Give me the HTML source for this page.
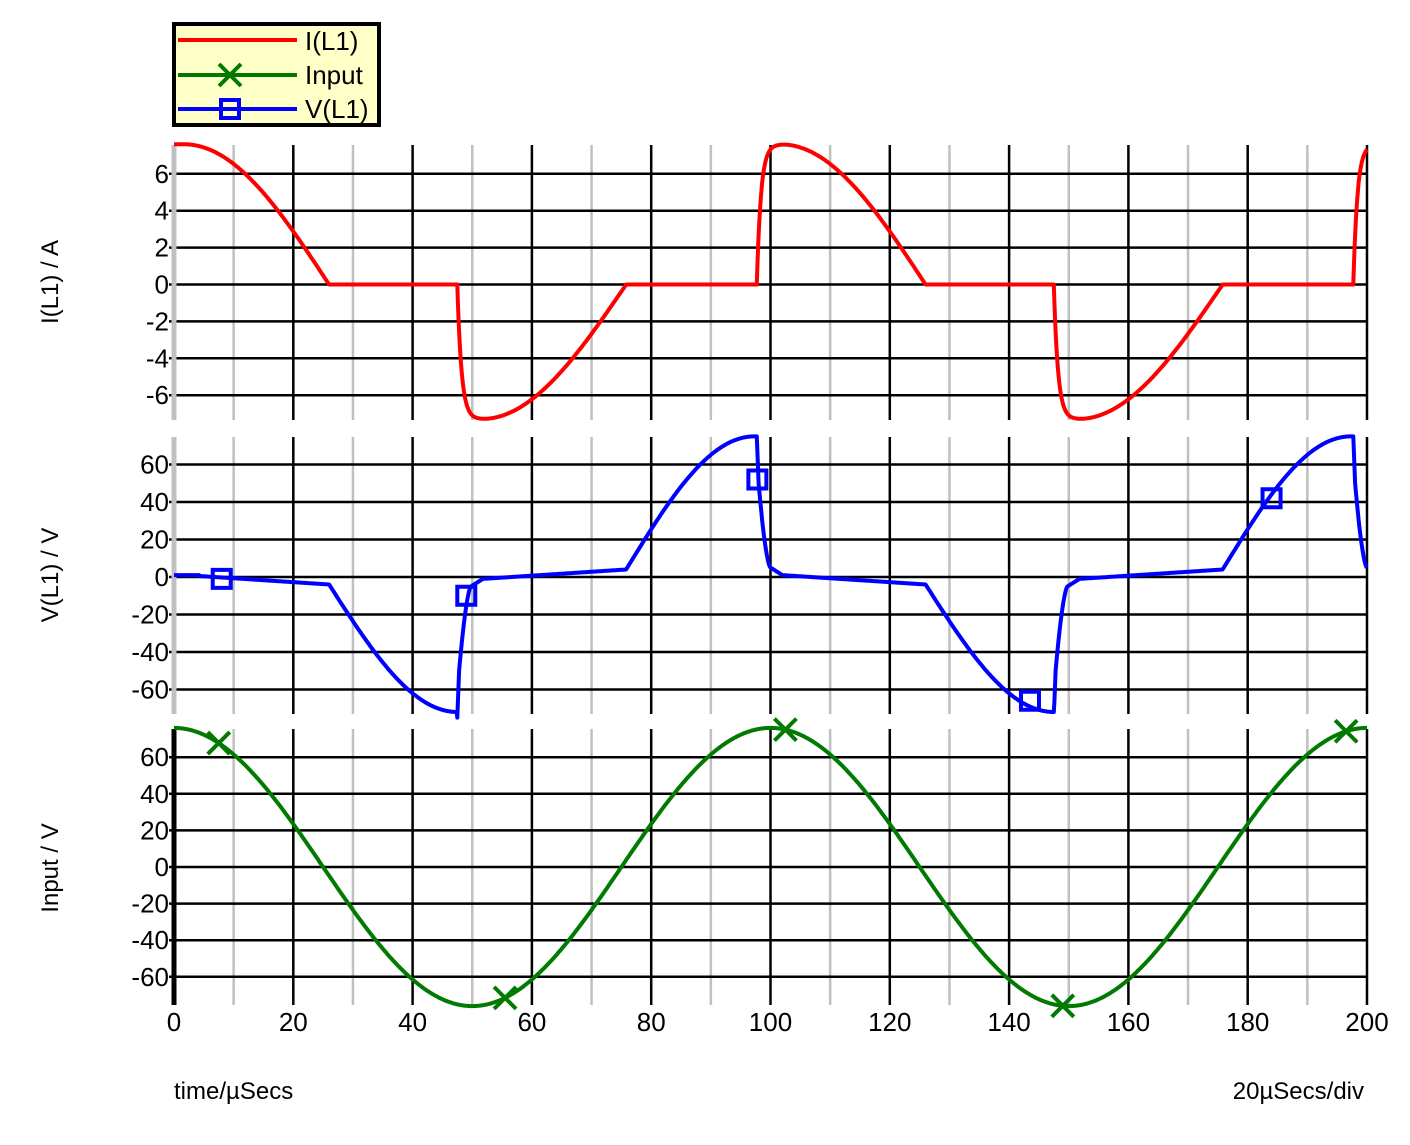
<!DOCTYPE html>
<html><head><meta charset="utf-8"><style>
html,body{margin:0;padding:0;background:#fff;}
svg text{font-family:"Liberation Sans",sans-serif;fill:#000;}
</style></head><body>
<svg id="s" width="1410" height="1140" xmlns="http://www.w3.org/2000/svg">
<rect width="1410" height="1140" fill="#fff"/>
<g id="grid"></g>
<g id="curves"></g>
<rect x="174" y="24" width="205" height="101" fill="#ffffc8" stroke="#000" stroke-width="4"/>
<line x1="178" y1="40" x2="297" y2="40" stroke="#f00" stroke-width="4"/>
<line x1="178" y1="75" x2="297" y2="75" stroke="#007a00" stroke-width="4"/>
<path d="M219 64 L241 86 M241 64 L219 86" stroke="#007a00" stroke-width="4"/>
<line x1="178" y1="109" x2="297" y2="109" stroke="#00f" stroke-width="4"/>
<rect x="221" y="100" width="18" height="18" fill="none" stroke="#00f" stroke-width="4"/>
<text x="305" y="50" font-size="26">I(L1)</text>
<text x="305" y="84" font-size="26">Input</text>
<text x="305" y="118" font-size="26">V(L1)</text>
<text x="174" y="1099" font-size="24">time/µSecs</text>
<text x="1364" y="1099" font-size="24" text-anchor="end">20µSecs/div</text>
<text transform="translate(58,282) rotate(-90)" font-size="24" text-anchor="middle">I(L1) / A</text>
<text transform="translate(58,575) rotate(-90)" font-size="24" text-anchor="middle">V(L1) / V</text>
<text transform="translate(58,868) rotate(-90)" font-size="24" text-anchor="middle">Input / V</text>
</svg>
<script>
var NS="http://www.w3.org/2000/svg";
var G=document.getElementById('grid'),C=document.getElementById('curves');
function el(p,tag,a,txt){var e=document.createElementNS(NS,tag);for(var k in a)e.setAttribute(k,a[k]);if(txt!==undefined)e.textContent=txt;p.appendChild(e);return e;}
var X0=174,X1=1367;function X(t){return X0+(X1-X0)*t/200;}
var panels=[
 {top:145,bot:420,zero:284.5,sc:18.45,ticks:[6,4,2,0,-2,-4,-6],axis:'#c0c0c0'},
 {top:437,bot:714,zero:577,sc:1.875,ticks:[60,40,20,0,-20,-40,-60],axis:'#c0c0c0'},
 {top:729,bot:1005,zero:867,sc:1.83,ticks:[60,40,20,0,-20,-40,-60],axis:'#000'}];
panels.forEach(function(p){
 for(var t=10;t<=200;t+=10){var maj=(t%20==0);
  el(G,'line',{x1:X(t),x2:X(t),y1:p.top,y2:p.bot,stroke:maj?'#000':'#c0c0c0','stroke-width':2.5});}
 p.ticks.forEach(function(v){var y=p.zero-v*p.sc;
  el(G,'line',{x1:X0-5,x2:X1,y1:y,y2:y,stroke:'#000','stroke-width':2.5});
  el(G,'text',{x:X0-5,y:y+9,'font-size':26,'text-anchor':'end'},String(v));});
 el(G,'line',{x1:X0,x2:X0,y1:p.top,y2:p.bot,stroke:p.axis,'stroke-width':5});
});
[0,20,40,60,80,100,120,140,160,180,200].forEach(function(t){el(G,'text',{x:X(t),y:1031,'font-size':26,'text-anchor':'middle'},String(t));});
function seg(t){var s=[-2.3,47.5,97.7,147.5,197.7];var k=0;for(var i=0;i<5;i++)if(t>=s[i])k=i;return {p:t-s[k],sg:(k%2==0)?1:-1,k:k};}
function I(t){var o=seg(t),p=o.p;var a=o.k==0?1:1-Math.exp(-p/0.7);var c=p<4?1:(p<28.3?Math.cos(Math.PI/2*(p-4)/24.3):0);var v=7.6*a*c;return o.sg*v*(o.sg<0?0.96:1);}
function V(t){var o=seg(t),p=o.p,v;
 if(t<4.3)return 1;
 if(p<0.3)v=75-25*p/0.3;
 else if(p<2.3){var q=(p-0.3)/2;v=5+45*Math.pow(1-q,1.6);}
 else if(p<4.3)v=5-4*(p-2.3)/2;
 else if(p<28.3)v=1-5*(p-4.3)/24;
 else v=-4-(o.sg<0?71:68)*Math.sin(Math.PI/2*Math.min(1,(p-28.3)/21.5));
 return o.sg*v;}
function Vin(t){return 76*Math.cos(2*Math.PI*t/100);}
function draw(f,p,col){var d='';for(var t=0;t<=200.001;t+=0.1){var y=p.zero-f(t)*p.sc;d+=(d?'L':'M')+X(t).toFixed(1)+' '+y.toFixed(1);}
 el(C,'path',{d:d,fill:'none',stroke:col,'stroke-width':4,'stroke-linejoin':'round'});}
draw(I,panels[0],'#f00');draw(V,panels[1],'#00f');draw(Vin,panels[2],'#007a00');
[[8,-1],[49,-10],[97.8,52],[143.5,-66],[184,42]].forEach(function(m){var x=X(m[0]),y=panels[1].zero-m[1]*panels[1].sc;
 el(C,'rect',{x:x-9,y:y-9,width:18,height:18,fill:'none',stroke:'#00f','stroke-width':4});});
[7.5,55.5,102.5,149,196.5].forEach(function(t){var x=X(t),y=panels[2].zero-Vin(t)*panels[2].sc;
 el(C,'path',{d:'M'+(x-11)+' '+(y-11)+'L'+(x+11)+' '+(y+11)+'M'+(x+11)+' '+(y-11)+'L'+(x-11)+' '+(y+11),stroke:'#007a00','stroke-width':4});});
</script>
</body></html>
